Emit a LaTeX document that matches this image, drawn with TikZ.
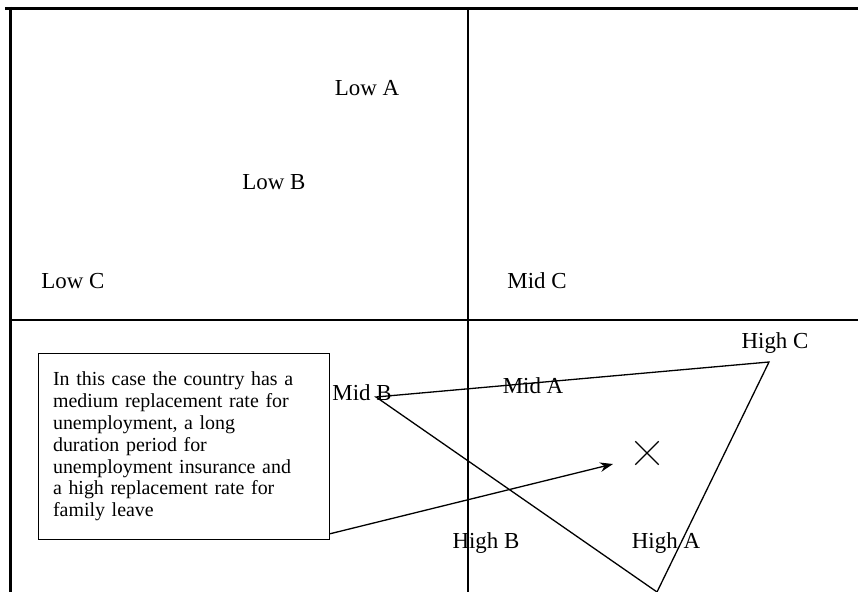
\documentclass[tikz,border=0pt]{standalone}
\usepackage{fontspec}
\setmainfont{Liberation Serif}
\usetikzlibrary{arrows.meta,calc,positioning,shapes.misc}

\begin{document}
\begin{tikzpicture}[
  x=1bp,
  y=-1bp,
  line join=miter,
  >={Stealth[length=13bp,width=9.5bp]},
  frame line/.style={line width=3.3bp},
  axis line/.style={line width=2.3bp},
  path line/.style={line width=1.3bp},
  cell label/.style={font=\fontsize{23}{26}\selectfont,inner sep=0pt},
  note box/.style={draw,line width=1.1bp,align=left,text width=262bp,
    inner xsep=14.5bp,inner ysep=18bp,anchor=north west,
    font=\fontsize{20}{22}\selectfont},
  ideal mark/.style={cross out,draw,line width=1.3bp,minimum size=22bp,
    inner sep=0pt}
]
\useasboundingbox (0,0) rectangle (858,592);

% Quadrant frame: heavy top and left rules, lighter cross.
\draw[frame line] (5,8.5) -- (858,8.5);
\draw[frame line] (10.5,7) -- (10.5,592);
\draw[axis line] (10,320) -- (858,320);
\draw[axis line] (468,10) -- (468,592);

% Country positions.
\node[cell label] (lowA) at (367,88) {Low A};
\node[cell label] (lowB) at (274,182) {Low B};
\node[cell label] (lowC) at (73,281) {Low C};
\node[cell label] (midC) at (537,281) {Mid C};
\node[cell label] (highC) at (775,343) {High C};
\node[cell label] (midB) at (362,393) {Mid B};
\node[cell label] (midA) at (533,386) {Mid A};
\node[cell label] (highB) at (486,543) {High B};
\node[cell label] (highA) at (666,543) {High A};

% Profile triangle for the example country.
\coordinate (cornerMid) at (376,397);
\coordinate (cornerHigh) at (769,362);
\coordinate (cornerLow) at (657,592);
\draw[path line] (cornerMid) -- (cornerHigh) -- (cornerLow) -- cycle;

% Centre of the triangle.
\node[ideal mark] (ideal) at (647,453) {};
\coordinate (aim) at (613,464);

% Explanatory note.
\node[note box] (note) at (38,353)
  {In this case the country has a\\
   medium replacement rate for\\
   unemployment, a long\\
   duration period for\\
   unemployment insurance and\\
   a high replacement rate for\\
   family leave};
\draw[->,path line] ($(note.south east)+(0,-6)$) -- (aim);

\end{tikzpicture}
\end{document}
